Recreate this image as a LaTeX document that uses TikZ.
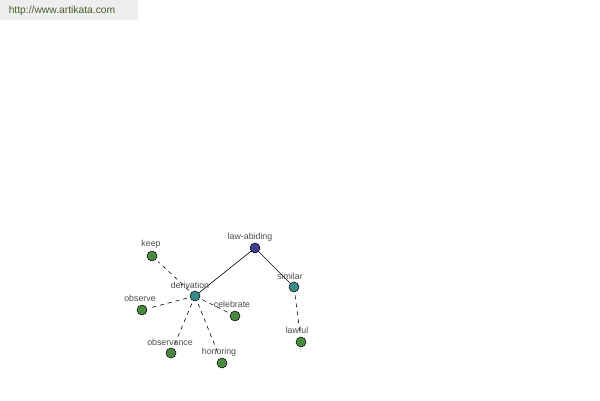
\documentclass[tikz,border=0pt]{standalone}
\usepackage{fontspec}
\setmainfont{Liberation Sans}
\begin{document}
\begin{tikzpicture}[x=1pt,y=-1pt,
  dot/.style={circle,draw=black,line width=0.5pt,minimum size=10pt,inner sep=0pt},
  rootdot/.style={dot,fill=rootc},
  middot/.style={dot,fill=midc},
  leafdot/.style={dot,fill=leafc},
  lbl/.style={font=\fontsize{8.8}{10}\selectfont,text=black!70,inner sep=0pt},
  rel/.style={line width=0.6pt},
  der/.style={line width=0.6pt,dashed,dash pattern=on 4pt off 4pt,shorten <=3pt,shorten >=3pt}]
\definecolor{rootc}{HTML}{3F3F8F}
\definecolor{midc}{HTML}{3A8C8C}
\definecolor{leafc}{HTML}{4A8A40}
\definecolor{bannerbg}{HTML}{EEEEEE}
\definecolor{bannertx}{HTML}{4A5E2A}
\useasboundingbox (0,0) rectangle (600,400);
\fill[white] (0,0) rectangle (600,400);
\fill[bannerbg] (0,0) rectangle (138,20);
\node[font=\fontsize{10.3}{12}\selectfont,text=bannertx,inner sep=0pt] (banner) at (62,11) {http://www.artikata.com};
% nodes
\node[rootdot] (law) at (255,248) {};
\node[middot] (sim) at (294,287) {};
\node[middot] (der) at (195,296) {};
\node[leafdot] (lawful) at (301,342) {};
\node[leafdot] (keep) at (152,256) {};
\node[leafdot] (obs) at (142,310) {};
\node[leafdot] (cel) at (235,316) {};
\node[leafdot] (obsv) at (171,353) {};
\node[leafdot] (hon) at (222,363) {};
% edges
\draw[rel] (law) -- (der);
\draw[rel] (law) -- (sim);
\draw[der] (sim) -- (lawful);
\draw[der] (der) -- (keep);
\draw[der] (der) -- (obs);
\draw[der] (der) -- (cel);
\draw[der] (der) -- (obsv);
\draw[der] (der) -- (hon);
% labels
\node[lbl] (tlaw) at (250,237) {law-abiding};
\node[lbl] (tsim) at (290,276) {similar};
\node[lbl] (tder) at (190,285) {derivation};
\node[lbl] (tlawful) at (297,330) {lawful};
\node[lbl] (tkeep) at (151,244) {keep};
\node[lbl] (tobs) at (140,298) {observe};
\node[lbl] (tcel) at (232,304) {celebrate};
\node[lbl] (tobsv) at (170,342) {observance};
\node[lbl] (thon) at (219,352) {honoring};
\end{tikzpicture}
\end{document}
